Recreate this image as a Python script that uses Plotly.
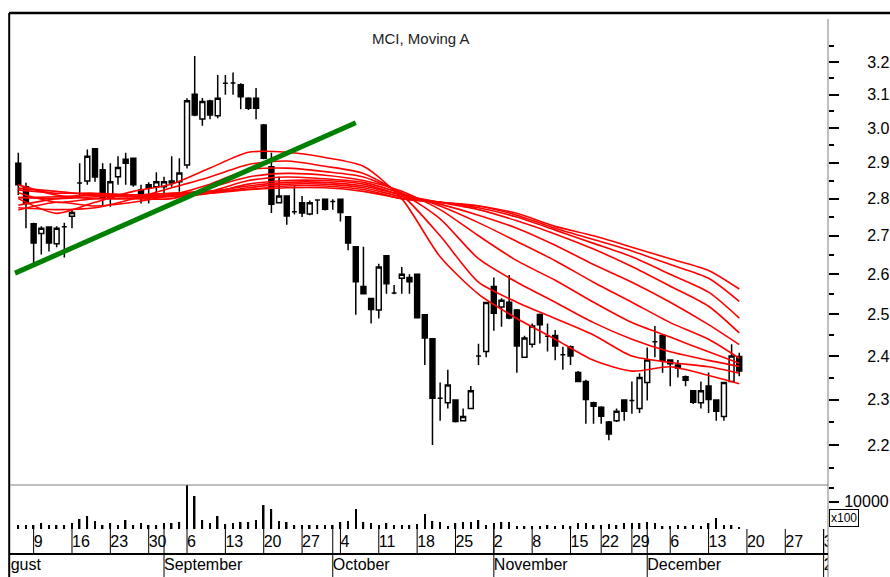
import plotly.graph_objects as go

# ---------------- data ----------------
idx = list(range(95))
opens = [2.899, 2.833, 2.732, 2.706, 2.723, 2.679, 2.724, 2.752, 2.843, 2.849,
         2.940, 2.880, 2.801, 2.861, 2.910, 2.913, 2.824, 2.838, 2.833, 2.833,
         2.849, 2.847, 2.894, 3.101, 3.027, 3.081, 3.037, 3.135, 3.136, 3.130,
         3.089, 3.089, 3.009, 2.889, 2.789, 2.807, 2.764, 2.789, 2.758, 2.796,
         2.798, 2.792, 2.798, 2.751, 2.671, 2.569, 2.539, 2.511, 2.648, 2.553,
         2.590, 2.592, 2.600, 2.499, 2.441, 2.303, 2.293, 2.299, 2.253, 2.280,
         2.400, 2.411, 2.569, 2.518, 2.530, 2.511, 2.397, 2.428, 2.500, 2.447,
         2.449, 2.403, 2.422, 2.362, 2.341, 2.293, 2.283, 2.250, 2.253, 2.299,
         2.298, 2.280, 2.339, 2.434, 2.449, 2.391, 2.379, 2.352, 2.320, 2.293,
         2.331, 2.299, 2.262, 2.341, 2.399]
highs = [2.929, 2.844, 2.735, 2.725, 2.725, 2.725, 2.735, 2.772, 2.899, 2.938,
         2.942, 2.899, 2.899, 2.919, 2.929, 2.915, 2.838, 2.845, 2.873, 2.861,
         2.919, 2.913, 3.089, 3.220, 3.090, 3.085, 3.160, 3.160, 3.168, 3.135,
         3.092, 3.120, 3.012, 2.929, 2.861, 2.809, 2.835, 2.807, 2.795, 2.798,
         2.800, 2.798, 2.800, 2.753, 2.673, 2.671, 2.540, 2.627, 2.650, 2.573,
         2.619, 2.600, 2.602, 2.500, 2.443, 2.339, 2.368, 2.300, 2.280, 2.331,
         2.429, 2.530, 2.592, 2.540, 2.598, 2.513, 2.448, 2.478, 2.502, 2.478,
         2.462, 2.422, 2.425, 2.365, 2.345, 2.295, 2.285, 2.252, 2.280, 2.300,
         2.341, 2.360, 2.420, 2.472, 2.450, 2.392, 2.391, 2.355, 2.321, 2.341,
         2.362, 2.300, 2.339, 2.428, 2.408]
lows = [2.810, 2.720, 2.629, 2.651, 2.659, 2.670, 2.643, 2.720, 2.805, 2.838,
        2.847, 2.778, 2.778, 2.838, 2.838, 2.833, 2.787, 2.787, 2.810, 2.810,
        2.833, 2.819, 2.884, 3.035, 3.007, 3.026, 3.029, 3.100, 3.100, 3.056,
        3.054, 3.026, 2.910, 2.761, 2.787, 2.729, 2.757, 2.750, 2.755, 2.758,
        2.768, 2.770, 2.738, 2.662, 2.499, 2.550, 2.478, 2.490, 2.551, 2.550,
        2.551, 2.551, 2.490, 2.379, 2.200, 2.253, 2.280, 2.249, 2.253, 2.280,
        2.379, 2.397, 2.460, 2.470, 2.488, 2.361, 2.397, 2.420, 2.430, 2.411,
        2.390, 2.368, 2.379, 2.340, 2.246, 2.246, 2.246, 2.210, 2.250, 2.253,
        2.268, 2.270, 2.298, 2.397, 2.361, 2.330, 2.350, 2.330, 2.290, 2.280,
        2.270, 2.253, 2.253, 2.340, 2.353]
closes = [2.838, 2.787, 2.681, 2.720, 2.681, 2.720, 2.724, 2.762, 2.843, 2.919,
          2.860, 2.801, 2.847, 2.887, 2.899, 2.838, 2.813, 2.829, 2.847, 2.847,
          2.843, 2.871, 3.082, 3.039, 3.079, 3.039, 3.089, 3.135, 3.136, 3.094,
          3.059, 3.059, 2.913, 2.785, 2.807, 2.753, 2.764, 2.761, 2.789, 2.796,
          2.771, 2.792, 2.762, 2.681, 2.581, 2.551, 2.512, 2.619, 2.576, 2.553,
          2.600, 2.581, 2.492, 2.443, 2.303, 2.303, 2.333, 2.251, 2.262, 2.320,
          2.400, 2.529, 2.503, 2.535, 2.491, 2.424, 2.443, 2.472, 2.475, 2.447,
          2.424, 2.403, 2.400, 2.341, 2.300, 2.285, 2.263, 2.224, 2.274, 2.274,
          2.298, 2.350, 2.391, 2.434, 2.390, 2.382, 2.372, 2.344, 2.294, 2.320,
          2.300, 2.274, 2.339, 2.400, 2.365]
volume_x100 = [1460, 1460, 1460, 2200, 1460, 1460, 1460, 2200, 3660, 4760,
               2930, 1460, 2200, 1460, 3290, 1460, 2200, 1460, 1460, 2200,
               2200, 2560, 16100, 12080, 3290, 2200, 4760, 1830, 2200, 2560,
               2560, 3290, 8780, 7320, 2930, 2560, 1460, 1460, 1460, 1460,
               1460, 1460, 2560, 2930, 7320, 2560, 2200, 1460, 2200, 1460,
               1460, 1460, 1830, 5490, 2930, 2560, 1100, 2200, 2560, 2560,
               3290, 1460, 2200, 2560, 2560, 1100, 1100, 1100, 1100, 1460,
               1100, 1460, 1100, 2200, 2200, 1460, 1460, 1830, 1460, 2200,
               2200, 2200, 2560, 2200, 1100, 1100, 1460, 1100, 1460, 1100,
               2200, 4030, 1460, 1460, 730]

# moving-average lines, read at sample positions
ma_idx = [0, 5, 10, 15, 20, 25, 30, 35, 40, 45, 50, 55, 60, 65, 70, 75, 80, 85, 90, 94]
ma_1 = [2.800, 2.760, 2.790, 2.820, 2.840, 2.885, 2.930, 2.930, 2.915, 2.890, 2.800, 2.645, 2.550, 2.490, 2.440, 2.390, 2.365, 2.375, 2.355, 2.336]
ma_2 = [2.775, 2.770, 2.775, 2.800, 2.830, 2.860, 2.895, 2.905, 2.890, 2.870, 2.810, 2.700, 2.580, 2.530, 2.490, 2.450, 2.400, 2.385, 2.375, 2.360]
ma_3 = [2.769, 2.790, 2.780, 2.790, 2.810, 2.840, 2.880, 2.885, 2.875, 2.860, 2.815, 2.745, 2.640, 2.580, 2.530, 2.480, 2.440, 2.410, 2.390, 2.376]
ma_4 = [2.838, 2.810, 2.800, 2.800, 2.800, 2.830, 2.860, 2.870, 2.865, 2.850, 2.820, 2.770, 2.700, 2.635, 2.585, 2.530, 2.480, 2.445, 2.410, 2.383]
ma_5 = [2.816, 2.790, 2.800, 2.800, 2.810, 2.820, 2.850, 2.860, 2.855, 2.845, 2.815, 2.780, 2.735, 2.685, 2.635, 2.580, 2.530, 2.480, 2.440, 2.395]
ma_6 = [2.782, 2.800, 2.810, 2.805, 2.805, 2.815, 2.840, 2.850, 2.850, 2.840, 2.810, 2.785, 2.755, 2.720, 2.675, 2.625, 2.580, 2.530, 2.475, 2.427]
ma_7 = [2.829, 2.820, 2.810, 2.810, 2.815, 2.820, 2.835, 2.845, 2.845, 2.835, 2.810, 2.790, 2.770, 2.740, 2.705, 2.665, 2.620, 2.570, 2.520, 2.455]
ma_8 = [2.804, 2.800, 2.805, 2.805, 2.810, 2.815, 2.830, 2.840, 2.840, 2.830, 2.805, 2.790, 2.775, 2.750, 2.715, 2.680, 2.645, 2.600, 2.555, 2.491]
ma_9 = [2.824, 2.815, 2.815, 2.810, 2.810, 2.815, 2.825, 2.835, 2.835, 2.825, 2.800, 2.790, 2.780, 2.755, 2.720, 2.690, 2.660, 2.625, 2.590, 2.532]
ma_10 = [2.802, 2.805, 2.810, 2.810, 2.815, 2.820, 2.825, 2.830, 2.830, 2.820, 2.800, 2.790, 2.780, 2.760, 2.725, 2.700, 2.670, 2.640, 2.610, 2.563]

# trend line (two anchor points: position, price)
trend_idx = [-0.43, 44.0]
trend_price = [2.603, 3.016]

# axis labels
price_ticks = [2.2, 2.3, 2.4, 2.5, 2.6, 2.7, 2.8, 2.9, 3.0, 3.1, 3.2]
price_minor = [2.15, 2.25, 2.35, 2.45, 2.55, 2.65, 2.75, 2.85, 2.95, 3.05, 3.15, 3.25]
day_idx = [2, 7, 12, 17, 22, 27, 32, 37, 42, 47, 52, 57, 62, 67, 72, 76, 80, 85, 90, 95, 100, 105]
day_labels = ["9", "16", "23", "30", "6", "13", "20", "27", "4", "11", "18", "25",
              "2", "8", "15", "22", "29", "6", "13", "20", "27", "3"]
month_idx = [19, 41, 62, 82, 105]
month_labels = ["gust", "September", "October", "November", "December", "2005"]
month_label_pos = [-1.0, 19, 41, 62, 82, 105]

FONT = "Liberation Sans, Arial, sans-serif"

fig = go.Figure()

# volume
fig.add_trace(go.Bar(x=idx, y=volume_x100, marker=dict(color="black", line=dict(width=0)),
                     width=0.2, xaxis="x", yaxis="y2", hoverinfo="skip"))

# candles
fig.add_trace(go.Candlestick(
    x=idx, open=opens, high=highs, low=lows, close=closes,
    increasing=dict(line=dict(color="black", width=1.5), fillcolor="white"),
    decreasing=dict(line=dict(color="black", width=1.5), fillcolor="black"),
    whiskerwidth=0, xaxis="x", yaxis="y", hoverinfo="skip"))

# moving averages
for ma in [ma_1, ma_2, ma_3, ma_4, ma_5, ma_6, ma_7, ma_8, ma_9, ma_10]:
    fig.add_trace(go.Scatter(x=ma_idx, y=ma, mode="lines",
                             line=dict(color="#ff0000", width=1.6, shape="spline", smoothing=0.7),
                             xaxis="x", yaxis="y", hoverinfo="skip"))

# trend line
fig.add_trace(go.Scatter(x=trend_idx, y=trend_price, mode="lines",
                         line=dict(color="#008000", width=5), xaxis="x", yaxis="y", hoverinfo="skip"))

# day row: ticks + labels
tx, ty = [], []
for d in day_idx:
    tx += [d, d, None]
    ty += [0, 1, None]
fig.add_trace(go.Scatter(x=tx, y=ty, mode="lines", line=dict(color="black", width=1),
                         xaxis="x", yaxis="y3", hoverinfo="skip"))
fig.add_trace(go.Scatter(x=day_idx, y=[0.45] * len(day_idx), mode="text", text=day_labels,
                         textposition="middle right", cliponaxis=True,
                         textfont=dict(family=FONT, size=16, color="black"),
                         xaxis="x", yaxis="y3", hoverinfo="skip"))

# month row: dividers + labels
mx, my = [], []
for m in month_idx:
    mx += [m, m, None]
    my += [0, 1, None]
fig.add_trace(go.Scatter(x=mx, y=my, mode="lines", line=dict(color="black", width=1),
                         xaxis="x", yaxis="y4", hoverinfo="skip"))
fig.add_trace(go.Scatter(x=mx, y=my, mode="lines", line=dict(color="black", width=1),
                         xaxis="x", yaxis="y3", hoverinfo="skip"))
fig.add_trace(go.Scatter(x=month_label_pos, y=[0.5] * len(month_label_pos), mode="text", text=month_labels,
                         textposition="middle right", cliponaxis=True,
                         textfont=dict(family=FONT, size=16, color="black"),
                         xaxis="x", yaxis="y4", hoverinfo="skip"))

H = 564.0
price_dom = [92 / H, 1.0]
vol_dom = [48 / H, 92 / H]
day_dom = [23 / H, 48 / H]
mon_dom = [0.0, 23 / H]

fig.update_layout(
    width=890, height=577,
    margin=dict(l=10, r=62, t=13, b=0, pad=0),
    paper_bgcolor="white", plot_bgcolor="white",
    showlegend=False,
    boxgap=0.2, boxgroupgap=0.2,
    font=dict(family=FONT, size=16, color="black"),
    xaxis=dict(range=[-1.082, 105.57], showgrid=False, zeroline=False, showticklabels=False,
               ticks="", showline=False, rangeslider=dict(visible=False), anchor="y4"),
    yaxis=dict(domain=price_dom, type="log", range=[0.32540, 0.52609], side="right",
               anchor="x", showgrid=False, zeroline=False, showline=False,
               tickmode="array", tickvals=price_ticks, ticktext=[f"{v:.1f}" for v in price_ticks],
               ticks="outside", ticklen=10, tickwidth=1.5, tickcolor="black",
               ticklabelstandoff=25,
               tickfont=dict(family=FONT, size=16, color="black"),
               minor=dict(tickmode="array", tickvals=price_minor, ticks="outside", ticklen=5,
                          tickwidth=1.5, tickcolor="black", showgrid=False)),
    yaxis2=dict(domain=vol_dom, range=[0, 16117], side="right", anchor="x",
                showgrid=False, zeroline=False, showline=False,
                tickmode="array", tickvals=[10000], ticktext=["10000"],
                ticks="outside", ticklen=10, tickwidth=1.5, tickcolor="black",
                ticklabelstandoff=2,
                tickfont=dict(family=FONT, size=16, color="black"),
                minor=dict(tickmode="array", tickvals=[5000, 15000], ticks="outside", ticklen=5,
                           tickwidth=1.5, tickcolor="black", showgrid=False)),
    yaxis3=dict(domain=day_dom, range=[0, 1], anchor="x", showgrid=False, zeroline=False,
                showticklabels=False, ticks="", showline=False),
    yaxis4=dict(domain=mon_dom, range=[0, 1], anchor="x", showgrid=False, zeroline=False,
                showticklabels=False, ticks="", showline=False),
)

# frame lines
W = 818.0
fig.add_shape(type="line", xref="paper", yref="paper", x0=-1.0 / W, x1=880.0 / W, y0=1.0, y1=1.0,
              line=dict(color="black", width=2.5))
fig.add_shape(type="line", xref="paper", yref="paper", x0=-0.8 / W, x1=-0.8 / W, y0=0.0, y1=1.0,
              line=dict(color="black", width=2))
fig.add_shape(type="line", xref="paper", yref="paper", x0=1.0, x1=1.0, y0=0.0, y1=(577 - 19) / H,
              line=dict(color="#7f7f7f", width=1))
fig.add_shape(type="line", xref="paper", yref="paper", x0=0.0, x1=1.0, y0=92 / H, y1=92 / H,
              line=dict(color="#7f7f7f", width=1))
fig.add_shape(type="line", xref="paper", yref="paper", x0=0.0, x1=1.0, y0=23 / H, y1=23 / H,
              line=dict(color="black", width=2))

# title and unit box
fig.add_annotation(text="MCI, Moving A", xref="paper", yref="paper", x=(421 - 10) / W, y=(577 - 38) / H,
                   showarrow=False, xanchor="center", yanchor="middle",
                   font=dict(family=FONT, size=15, color="#222222"))
fig.add_annotation(text="x100", xref="paper", yref="paper", x=(844 - 10) / W, y=(577 - 518) / H,
                   showarrow=False, xanchor="center", yanchor="middle",
                   font=dict(family=FONT, size=12, color="black"),
                   bordercolor="black", borderwidth=1, borderpad=1, bgcolor="white")

fig.write_html("out.html", config={"displayModeBar": False},
               post_script="document.body.style.margin='0';document.body.style.padding='0';"
                           "document.body.style.overflow='hidden';")
